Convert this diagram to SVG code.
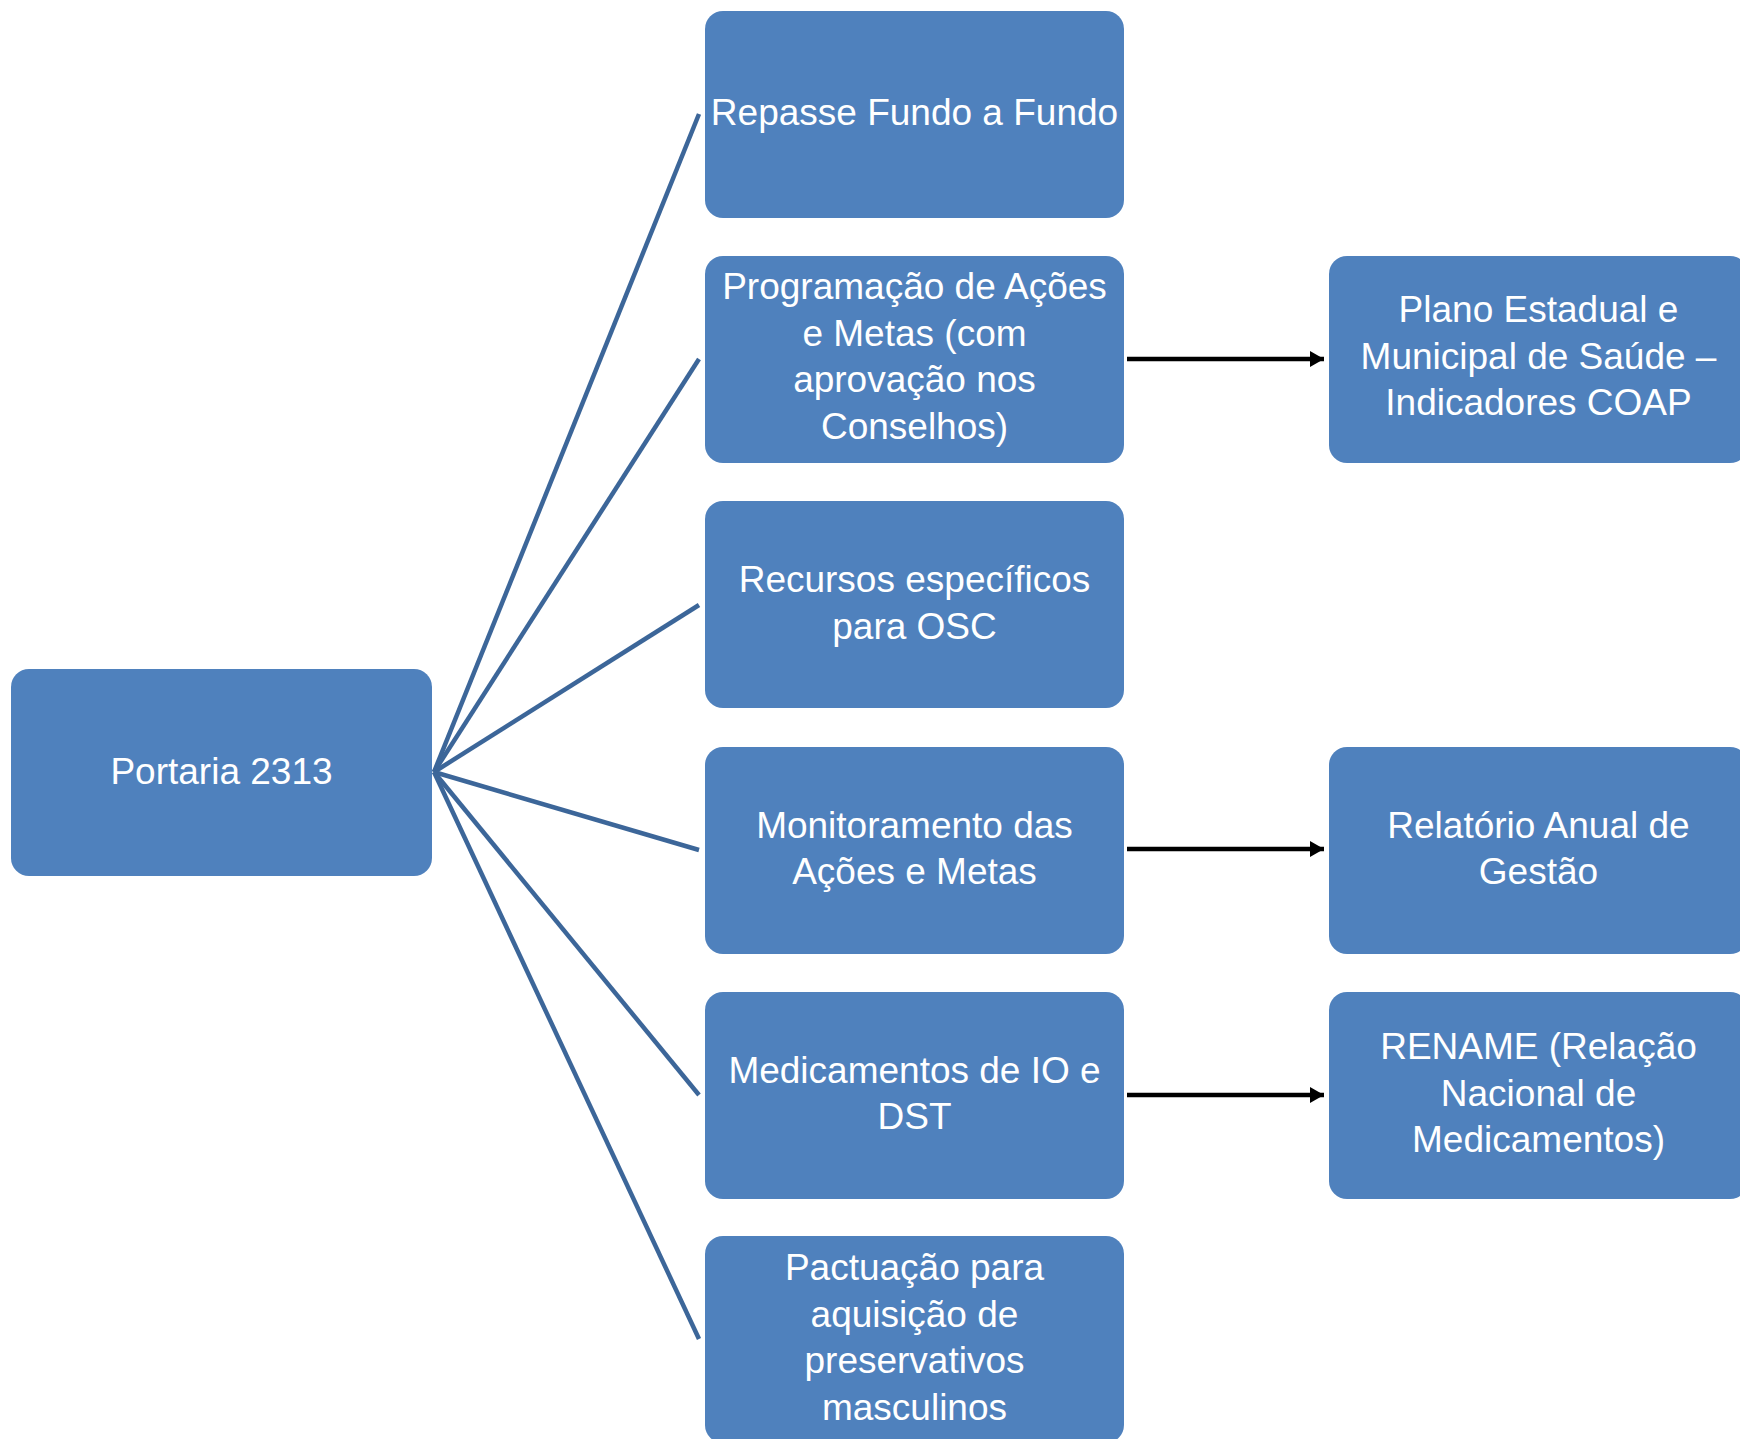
<svg xmlns="http://www.w3.org/2000/svg" width="1740" height="1439" viewBox="0 0 1740 1439">
<style>
.box{fill:#4f81bd}
.t{font-family:"Liberation Sans",Arial,sans-serif;font-size:37px;fill:#ffffff;text-anchor:middle}
.spoke{stroke:#3c6699;stroke-width:4.5;fill:none}
.arr{stroke:#000000;stroke-width:4.5;fill:none;marker-end:url(#ah)}
</style>
<defs>
<marker id="ah" markerUnits="userSpaceOnUse" markerWidth="16" markerHeight="18" refX="14" refY="9" orient="auto">
<path d="M0,1 L14,9 L0,17 Z" fill="#000000"/>
</marker>
</defs>
<rect width="1740" height="1439" fill="#ffffff"/>
<g id="connectors">
<line class="spoke" x1="434" y1="772" x2="699" y2="114"/>
<line class="spoke" x1="434" y1="772" x2="699" y2="359"/>
<line class="spoke" x1="434" y1="772" x2="699" y2="605"/>
<line class="spoke" x1="434" y1="772" x2="699" y2="850"/>
<line class="spoke" x1="434" y1="772" x2="699" y2="1095"/>
<line class="spoke" x1="434" y1="772" x2="699" y2="1339"/>
<line class="arr" x1="1127" y1="359" x2="1324" y2="359"/>
<line class="arr" x1="1127" y1="849" x2="1324" y2="849"/>
<line class="arr" x1="1127" y1="1095" x2="1324" y2="1095"/>
</g>
<g id="portaria">
<rect class="box" x="11" y="669" width="421" height="207" rx="18"/>
<text class="t" x="221.5" y="784">Portaria 2313</text>
</g>
<g id="repasse">
<rect class="box" x="705" y="11" width="419" height="207" rx="18"/>
<text class="t" x="914.5" y="125">Repasse Fundo a Fundo</text>
</g>
<g id="programacao">
<rect class="box" x="705" y="256" width="419" height="207" rx="18"/>
<text class="t" x="914.5" y="299">Programação de Ações</text>
<text class="t" x="914.5" y="345.5">e Metas (com</text>
<text class="t" x="914.5" y="392">aprovação nos</text>
<text class="t" x="914.5" y="438.5">Conselhos)</text>
</g>
<g id="recursos">
<rect class="box" x="705" y="501" width="419" height="207" rx="18"/>
<text class="t" x="914.5" y="592">Recursos específicos</text>
<text class="t" x="914.5" y="638.5">para OSC</text>
</g>
<g id="monitoramento">
<rect class="box" x="705" y="747" width="419" height="207" rx="18"/>
<text class="t" x="914.5" y="837.5">Monitoramento das</text>
<text class="t" x="914.5" y="884">Ações e Metas</text>
</g>
<g id="medicamentos">
<rect class="box" x="705" y="992" width="419" height="207" rx="18"/>
<text class="t" x="914.5" y="1082.5">Medicamentos de IO e</text>
<text class="t" x="914.5" y="1129">DST</text>
</g>
<g id="pactuacao">
<rect class="box" x="705" y="1236" width="419" height="207" rx="18"/>
<text class="t" x="914.5" y="1280">Pactuação para</text>
<text class="t" x="914.5" y="1326.5">aquisição de</text>
<text class="t" x="914.5" y="1373">preservativos</text>
<text class="t" x="914.5" y="1419.5">masculinos</text>
</g>
<g id="plano">
<rect class="box" x="1329" y="256" width="419" height="207" rx="18"/>
<text class="t" x="1538.5" y="322">Plano Estadual e</text>
<text class="t" x="1538.5" y="368.5">Municipal de Saúde –</text>
<text class="t" x="1538.5" y="415">Indicadores COAP</text>
</g>
<g id="relatorio">
<rect class="box" x="1329" y="747" width="419" height="207" rx="18"/>
<text class="t" x="1538.5" y="837.5">Relatório Anual de</text>
<text class="t" x="1538.5" y="884">Gestão</text>
</g>
<g id="rename">
<rect class="box" x="1329" y="992" width="419" height="207" rx="18"/>
<text class="t" x="1538.5" y="1059">RENAME (Relação</text>
<text class="t" x="1538.5" y="1105.5">Nacional de</text>
<text class="t" x="1538.5" y="1152">Medicamentos)</text>
</g>
</svg>
